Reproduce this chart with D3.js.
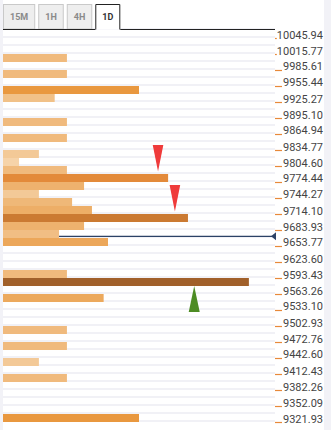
<!DOCTYPE html>
<html>
<head>
<meta charset="utf-8">
<script src="https://cdn.jsdelivr.net/npm/d3@7"></script>
<style>
body{margin:0;background:#f2f2f7;overflow:hidden;}
svg{display:block;font-family:Roboto,sans-serif;}
</style>
</head>
<body>
<svg id="chart"></svg>
<script>
const tabs = ["15M","1H","4H","1D"]
const activeTab = "1D"

const tickLabels = ["10045.94","10015.77","9985.61","9955.44","9925.27","9895.10","9864.94",
  "9834.77","9804.60","9774.44","9744.27","9714.10","9683.93","9653.77","9623.60","9593.43",
  "9563.26","9533.10","9502.93","9472.76","9442.60","9412.43","9382.26","9352.09","9321.93"]

// price level (top of each bar) and its strength
const levels = [10015.77,9985.61,9955.44,9940.36,9895.10,9864.94,9834.77,9819.69,9804.60,
  9789.52,9774.44,9759.35,9744.27,9729.19,9714.10,9699.02,9683.93,9668.85,9608.52,9593.43,
  9563.26,9502.93,9472.76,9442.60,9412.43,9337.01]
const strength = [23.5,23.5,50,19,23.5,23.5,13.2,5.9,23.5,
  60.7,29.8,13.2,25.4,32.7,68,29.8,20.6,38.6,23.5,90.4,
  37,23.5,23.5,13.2,23.5,50]

const currentPrice = 9672.0

const markerLevels = [9789.52,9714.10,9593.43]
const markerPos = [57,63.2,70.3]
const markerDir = ["down","down","up"]

let width = 331
let height = 430
let left = 3
let plotRight = 275
let labelRight = 323
let rowTop = 30
let rowCount = 50

let svg = d3.select('#chart').attr('width',width).attr('height',height)

let hi = +tickLabels[0]
let lo = +tickLabels[tickLabels.length-1]
let step = (hi-lo)/((tickLabels.length-1)*2)

let yScale = d3.scaleLinear().domain([hi,lo]).range([rowTop+8, rowTop+8+(tickLabels.length-1)*16])
let xScale = d3.scaleLinear().domain([0,100]).range([left, left+272])
let rowH = yScale(lo-step)-yScale(lo)

let colorScale = d3.scaleLinear()
  .domain([5,23,50,61,68,90])
  .range(["#f6d4ab","#f0bb7e","#e9983f","#e38a3a","#cb7a32","#a2602a"])

// widget background
svg.append('rect').attr('x',left).attr('y',0).attr('width',labelRight+1-left).attr('height',height).attr('fill','#ffffff')

// rows
let rowLevels = d3.range(rowCount).map(k => hi+step-k*step)
svg.append('g').selectAll('rect')
  .data(rowLevels)
  .enter()
  .append('rect')
  .attr('x',left)
  .attr('width',plotRight-left)
  .attr('y',d => yScale(d)-2)
  .attr('height',2)
  .attr('fill','#f1f1f6')

// current price line
let cy = yScale(currentPrice)
svg.append('line')
  .attr('x1',left).attr('x2',plotRight-3)
  .attr('y1',cy).attr('y2',cy)
  .attr('stroke','#2c4266').attr('stroke-width',1.3)
svg.append('path')
  .attr('d',`M${plotRight-4},${cy}L${plotRight+1},${cy-4}L${plotRight+1},${cy+4}Z`)
  .attr('fill','#2c4266')

// bars
svg.append('g').selectAll('rect')
  .data(levels)
  .enter()
  .append('rect')
  .attr('x',left)
  .attr('y',d => yScale(d))
  .attr('height',rowH)
  .attr('width',(d,i) => xScale(strength[i])-left)
  .attr('fill',(d,i) => colorScale(strength[i]))

// markers
svg.append('g').selectAll('path')
  .data(markerLevels)
  .enter()
  .append('path')
  .attr('d',(d,i) => {
    let x = xScale(markerPos[i])
    if(markerDir[i]==="down"){
      let ay = yScale(d)-2.5
      return `M${x},${ay}L${x-5.3},${ay-26.5}L${x+5.3},${ay-26.5}Z`
    }else{
      let ay = yScale(d-step)
      return `M${x},${ay}L${x-5.5},${ay+26}L${x+5.5},${ay+26}Z`
    }
  })
  .attr('fill',(d,i) => markerDir[i]==="down" ? '#ef3b3b' : '#4d8c24')

// right axis ticks
let yAxis = d3.axisRight(yScale)
  .tickValues(tickLabels.map(Number))
  .tickSize(7)
  .tickFormat('')
let axisG = svg.append('g')
  .attr('transform','translate('+plotRight+',0)')
  .call(yAxis)
axisG.select('.domain').remove()
axisG.selectAll('line').attr('stroke','#e8893a').attr('stroke-width',1.2)

// labels
let labelG = svg.append('g')
labelG.selectAll('text')
  .data(tickLabels)
  .enter()
  .append('text')
  .attr('x',labelRight)
  .attr('y',d => yScale(+d)+0.5)
  .attr('text-anchor','end')
  .attr('font-size','11px')
  .attr('fill','#444')
  .text(d => d)
  .each(function(){
    let b = this.getBBox()
    labelG.insert('rect','text')
      .attr('x',b.x).attr('y',b.y+1).attr('width',b.width).attr('height',b.height-2)
      .attr('fill','#ffffff')
  })

// tabs
let tabG = svg.append('g')
let tx = left
let activeX0 = 0, activeX1 = 0
tabs.forEach(t => {
  let g = tabG.append('g')
  let txt = g.append('text')
    .attr('y',20)
    .attr('text-anchor','middle')
    .attr('font-size','9px')
    .attr('font-weight','700')
    .attr('fill',t===activeTab ? '#333' : '#8a8a8a')
    .text(t)
  let w = txt.node().getComputedTextLength()+14
  txt.attr('x',tx+w/2)
  if(t===activeTab){
    activeX0 = tx; activeX1 = tx+w
    g.insert('rect','text').attr('x',tx).attr('y',4.5).attr('width',w).attr('height',25).attr('fill','#fff')
    g.append('path').attr('d',`M${tx+0.5},29.5V4.5H${tx+w-0.5}V29.5`)
      .attr('fill','none').attr('stroke','#222').attr('stroke-width',1)
  }else{
    g.insert('rect','text').attr('x',tx+0.5).attr('y',4.5).attr('width',w-1).attr('height',24.5)
      .attr('fill','#eeeeee').attr('stroke','#c9c9c9')
  }
  tx += w+3
})
svg.append('line').attr('x1',left).attr('x2',activeX0).attr('y1',29.5).attr('y2',29.5).attr('stroke','#222')
svg.append('line').attr('x1',activeX1).attr('x2',plotRight).attr('y1',29.5).attr('y2',29.5).attr('stroke','#222')
</script>
</body>
</html>
